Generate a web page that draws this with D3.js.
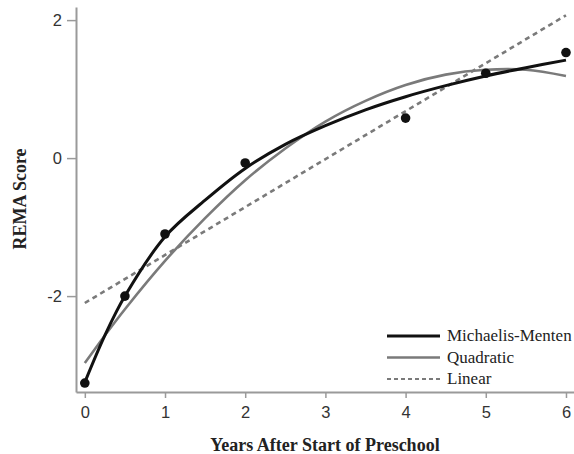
<!DOCTYPE html>
<html>
<head>
<meta charset="utf-8">
<script src="https://cdn.jsdelivr.net/npm/d3@7"></script>
<style>
  body { margin: 0; background: #fff; }
  svg { display: block; }
</style>
</head>
<body>
<svg id="chart" width="574" height="454"></svg>
<script>
// observed REMA scores
const obsYears = [0, 0.5, 1, 2, 4, 5, 6];
const obsScores = [-3.26, -2.0, -1.1, -0.07, 0.58, 1.23, 1.53];

// fitted curves
const curveYears = [0, 0.25, 0.5, 1, 1.5, 2, 2.5, 3, 3.5, 4, 4.5, 5, 5.5, 6];
const mmScores = [-3.25, -2.57, -2.0, -1.14, -0.61, -0.15, 0.2, 0.47, 0.7, 0.89, 1.05, 1.19, 1.31, 1.42];
const quadScores = [-2.97, -2.57, -2.19, -1.49, -0.87, -0.32, 0.14, 0.53, 0.83, 1.06, 1.21, 1.28, 1.28, 1.19];
const linYears = [0, 6];
const linScores = [-2.1, 2.07];

const xTicks = [0, 1, 2, 3, 4, 5, 6];
const yTicks = [-2, 0, 2];
const legendNames = ['Michaelis-Menten', 'Quadratic', 'Linear'];

const svg = d3.select('#chart');
const margin = { top: 7, right: 0, bottom: 62, left: 76 };
const width = +svg.attr('width');
const height = +svg.attr('height');

const x = d3.scaleLinear()
    .domain([-0.11, 6.1])
    .range([margin.left, width - margin.right]);

const y = d3.scaleLinear()
    .domain([-3.39, 2.19])
    .range([height - margin.bottom, margin.top]);

const axisColor = '#9a9a9a';
const serif = '"Liberation Serif", "Times New Roman", serif';
const sans = '"Liberation Sans", Arial, sans-serif';
const fmt = d => String(d);

// x axis
const xAxis = svg.append('g')
    .attr('transform', `translate(0, ${height - margin.bottom})`)
    .call(d3.axisBottom(x).tickValues(xTicks).tickFormat(fmt).tickSize(6).tickPadding(8).tickSizeOuter(0));
xAxis.select('.domain').attr('stroke', axisColor).attr('stroke-width', 2);
xAxis.selectAll('.tick line').attr('stroke', axisColor).attr('stroke-width', 1.5);
xAxis.selectAll('.tick text')
    .attr('fill', '#333')
    .style('font-family', sans)
    .style('font-size', '16.5px');

// y axis
const yAxis = svg.append('g')
    .attr('transform', `translate(${margin.left}, 0)`)
    .call(d3.axisLeft(y).tickValues(yTicks).tickFormat(fmt).tickSize(9).tickPadding(5).tickSizeOuter(0));
yAxis.select('.domain').attr('stroke', axisColor).attr('stroke-width', 2);
yAxis.selectAll('.tick line').attr('stroke', axisColor).attr('stroke-width', 1.5);
yAxis.selectAll('.tick text')
    .attr('fill', '#333')
    .style('font-family', sans)
    .style('font-size', '16.5px');

// axis titles
svg.append('text')
    .attr('x', 325)
    .attr('y', 451)
    .attr('text-anchor', 'middle')
    .style('font-family', serif)
    .attr('font-weight', 'bold')
    .attr('font-size', 18)
    .attr('fill', '#222')
    .text('Years After Start of Preschool');

svg.append('text')
    .attr('transform', 'translate(26, 199) rotate(-90)')
    .attr('text-anchor', 'middle')
    .style('font-family', serif)
    .attr('font-weight', 'bold')
    .attr('font-size', 18)
    .attr('fill', '#222')
    .text('REMA Score');

// lines
const line = d3.line()
    .x(d => x(d[0]))
    .y(d => y(d[1]))
    .curve(d3.curveCatmullRom);

svg.append('path')
    .datum(d3.zip(linYears, linScores))
    .attr('d', line)
    .attr('fill', 'none')
    .attr('stroke', '#7a7a7a')
    .attr('stroke-width', 2.6)
    .attr('stroke-dasharray', '5,4');

svg.append('path')
    .datum(d3.zip(curveYears, quadScores))
    .attr('d', line)
    .attr('fill', 'none')
    .attr('stroke', '#7a7a7a')
    .attr('stroke-width', 2.6);

svg.append('path')
    .datum(d3.zip(curveYears, mmScores))
    .attr('d', line)
    .attr('fill', 'none')
    .attr('stroke', '#111')
    .attr('stroke-width', 3);

svg.selectAll('.dot')
    .data(d3.zip(obsYears, obsScores))
    .enter().append('circle')
    .attr('class', 'dot')
    .attr('cx', d => x(d[0]))
    .attr('cy', d => y(d[1]))
    .attr('r', 4.8)
    .attr('fill', '#111');

// legend
const legendStyles = [
    { stroke: '#111', width: 3, dash: null },
    { stroke: '#7a7a7a', width: 2.6, dash: null },
    { stroke: '#7a7a7a', width: 2.2, dash: '4,3' }
];

const legend = svg.append('g')
    .attr('transform', 'translate(387, 336)');

legendNames.forEach((name, i) => {
    const row = legend.append('g').attr('transform', `translate(0, ${i * 21.5})`);
    row.append('line')
        .attr('x1', 0).attr('x2', 53)
        .attr('y1', 0).attr('y2', 0)
        .attr('stroke', legendStyles[i].stroke)
        .attr('stroke-width', legendStyles[i].width)
        .attr('stroke-dasharray', legendStyles[i].dash);
    row.append('text')
        .attr('x', 60)
        .attr('y', 5)
        .style('font-family', serif)
        .attr('font-size', 17)
        .attr('fill', '#222')
        .text(name);
});
</script>
</body>
</html>
